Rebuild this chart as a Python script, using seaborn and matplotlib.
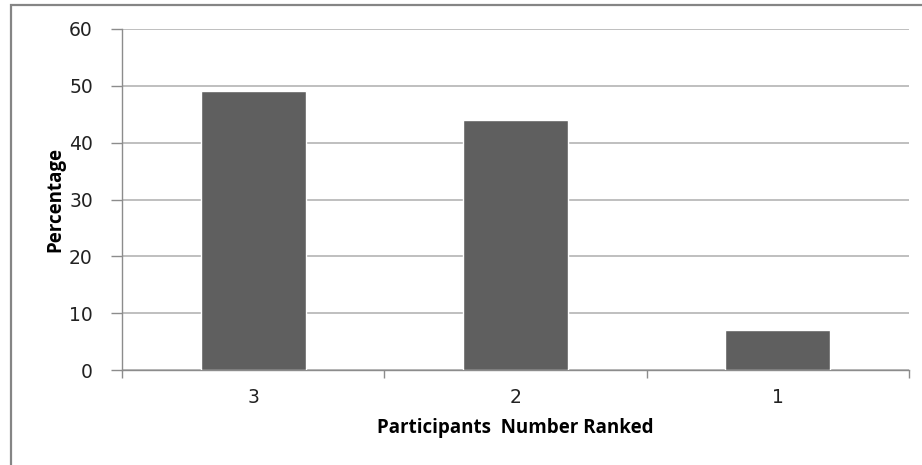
import matplotlib
matplotlib.use("Agg")
import matplotlib.pyplot as plt
from matplotlib.patches import Rectangle
from matplotlib.ticker import FixedLocator
import seaborn as sns
import pandas as pd

# Share of participants by number of items ranked
ranked = ["3", "2", "1"]
percentage = [49, 44, 7]
y_ticks = [0, 10, 20, 30, 40, 50, 60]

df = pd.DataFrame({"ranked": ranked, "percentage": percentage})

sns.set_theme(style="white")
plt.rcParams["font.family"] = ["DejaVu Sans"]

W, H = 922, 465
fig = plt.figure(figsize=(W / 100, H / 100), dpi=100)
fig.patch.set_facecolor("white")

# Outer chart frame
fig.patches.append(Rectangle((11 / W, -0.05), 1.2, 1 - 5 / H + 0.05,
                             transform=fig.transFigure, fill=False,
                             edgecolor="#858585", linewidth=1.6, zorder=0))

ax = fig.add_axes([122 / W, 1 - 370.3 / H, 787 / W, (370.3 - 28.7) / H])
sns.barplot(data=df, x="ranked", y="percentage", order=ranked,
            color="#5f5f5f", width=0.4, saturation=1, ax=ax, zorder=3)

ax.set_ylim(0, 60)
ax.set_xlim(-0.5, len(ranked) - 0.5)
ax.set_yticks(y_ticks)
ax.yaxis.grid(True, color="#b4b4b4", linewidth=1.2, zorder=0)
ax.xaxis.grid(False)

for side in ["top", "right"]:
    ax.spines[side].set_visible(False)
for side in ["left", "bottom"]:
    ax.spines[side].set_color("#8c8c8c")
    ax.spines[side].set_linewidth(1.0)

# Tick marks sit on category boundaries, labels at category centres
ax.xaxis.set_minor_locator(FixedLocator([i - 0.5 for i in range(len(ranked) + 1)]))
ax.tick_params(axis="x", which="major", length=0, pad=13, labelsize=13.5,
               labelcolor="#222222")
ax.tick_params(axis="x", which="minor", length=6, width=1.0, color="#8c8c8c",
               bottom=True, direction="out")
ax.tick_params(axis="y", which="major", length=8, width=1.0, color="#8c8c8c",
               left=True, direction="out", pad=13, labelsize=13.5,
               labelcolor="#222222")

ax.set_xlabel("Participants  Number Ranked", fontsize=13.5, fontweight="bold",
              family=["Open Sans", "DejaVu Sans"], color="black")
ax.set_ylabel("Percentage", fontsize=13.5, fontweight="bold",
              family=["Open Sans", "DejaVu Sans"], color="black")
ax.xaxis.set_label_coords(0.5, (370.3 - 418) / 341.6)
ax.yaxis.set_label_coords((65 - 122) / 787, 0.5)

fig.savefig("out.png", dpi=100, facecolor="white")
